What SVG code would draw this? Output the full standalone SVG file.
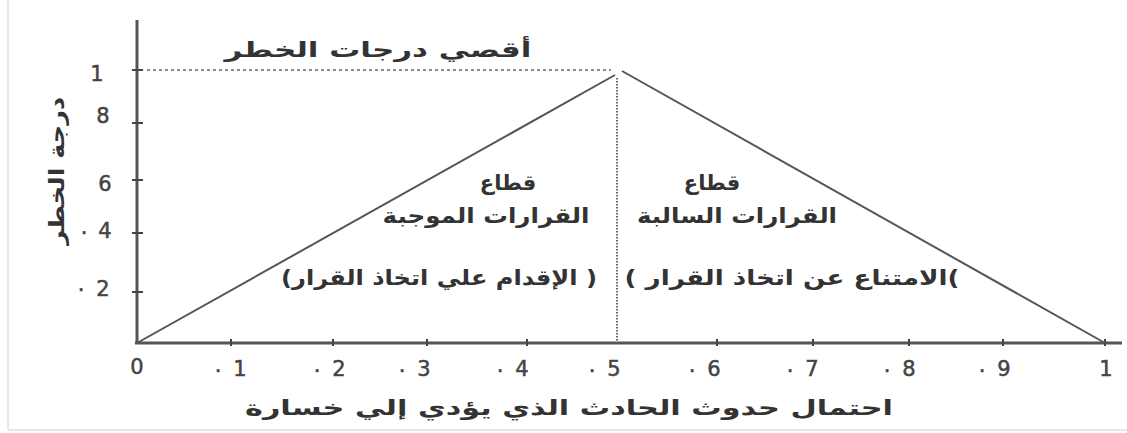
<svg xmlns="http://www.w3.org/2000/svg" width="1127" height="433" viewBox="0 0 1127 433">
<style>
.ar{font-family:"DejaVu Sans",sans-serif;font-weight:bold;fill:#333;font-size:21px}
.num{font-family:"DejaVu Sans",sans-serif;fill:#444;stroke:#444;stroke-width:0.5;font-size:21px;text-anchor:middle}
.axis{stroke:#555;stroke-width:3;fill:none}
.tick{stroke:#444;stroke-width:2}
.ln{stroke:#555;stroke-width:2;fill:none}
.p{direction:ltr;unicode-bidi:embed}
</style>
<rect width="1127" height="433" fill="#fff"/>
<g id="frame" stroke="#e6e6e6" stroke-width="2">
<line x1="8" y1="0" x2="8" y2="430"/>
<line x1="8" y1="430" x2="1127" y2="430"/>
</g>
<g id="axes">
<line class="axis" x1="137" y1="20" x2="137" y2="344"/>
<line class="axis" x1="135" y1="343" x2="1122" y2="343"/>
<g class="tick">
<line x1="132" y1="70" x2="143" y2="70"/>
<line x1="132" y1="123" x2="143" y2="123"/>
<line x1="132" y1="180" x2="143" y2="180"/>
<line x1="132" y1="233" x2="143" y2="233"/>
<line x1="132" y1="292" x2="143" y2="292"/>
<line x1="231" y1="339" x2="231" y2="346"/>
<line x1="333" y1="339" x2="333" y2="346"/>
<line x1="427" y1="339" x2="427" y2="346"/>
<line x1="527" y1="339" x2="527" y2="346"/>
<line x1="717" y1="339" x2="717" y2="346"/>
<line x1="813" y1="339" x2="813" y2="346"/>
<line x1="909" y1="339" x2="909" y2="346"/>
<line x1="1003" y1="339" x2="1003" y2="346"/>
<line x1="1105" y1="339" x2="1105" y2="346"/>
</g>
</g>
<g id="ylabels" class="num">
<text x="97" y="81">1</text>
<text x="103" y="123">8</text>
<text x="105" y="191">6</text>
<text y="238"><tspan x="84" dy="-4">.</tspan><tspan x="105" dy="4">4</tspan></text>
<text y="296"><tspan x="81" dy="-5">.</tspan><tspan x="103" dy="5">2</tspan></text>
</g>
<g id="xlabels" class="num">
<text x="137" y="374">0</text>
<text y="376"><tspan x="218" dy="-4">.</tspan><tspan x="240" dy="4">1</tspan></text>
<text y="376"><tspan x="317" dy="-4">.</tspan><tspan x="339" dy="4">2</tspan></text>
<text y="376"><tspan x="402" dy="-4">.</tspan><tspan x="424" dy="4">3</tspan></text>
<text y="376"><tspan x="500" dy="-4">.</tspan><tspan x="522" dy="4">4</tspan></text>
<text y="376"><tspan x="592" dy="-4">.</tspan><tspan x="614" dy="4">5</tspan></text>
<text y="376"><tspan x="692" dy="-4">.</tspan><tspan x="714" dy="4">6</tspan></text>
<text y="376"><tspan x="790" dy="-4">.</tspan><tspan x="812" dy="4">7</tspan></text>
<text y="376"><tspan x="887" dy="-4">.</tspan><tspan x="909" dy="4">8</tspan></text>
<text y="376"><tspan x="982" dy="-4">.</tspan><tspan x="1004" dy="4">9</tspan></text>
<text x="1106" y="376">1</text>
</g>
<g id="connectors">
<line class="ln" x1="137" y1="343" x2="615" y2="75"/>
<line class="ln" x1="622" y1="71" x2="1105" y2="343"/>
<line x1="147" y1="70" x2="611" y2="70" stroke="#666" stroke-width="1.6" stroke-dasharray="3 3"/>
<line x1="617" y1="78" x2="617" y2="343" stroke="#666" stroke-width="2" stroke-dasharray="1.5 1.5"/>
</g>
<g id="title">
<text class="ar" x="378" y="57" text-anchor="middle" direction="rtl" textLength="307" lengthAdjust="spacingAndGlyphs">أقصي درجات الخطر</text>
</g>
<g id="ytitle">
<text class="ar" transform="translate(64,171) rotate(-90)" text-anchor="middle" direction="rtl" textLength="148" lengthAdjust="spacingAndGlyphs" font-size="23">درجة الخطر</text>
</g>
<g id="left-sector">
<text class="ar" x="508" y="190" text-anchor="middle" direction="rtl">قطاع</text>
<text class="ar" x="486" y="223" text-anchor="middle" direction="rtl" textLength="207" lengthAdjust="spacingAndGlyphs">القرارات الموجبة</text>
<text class="ar" x="439" y="285" text-anchor="middle" direction="rtl" textLength="316" lengthAdjust="spacingAndGlyphs"><tspan class="p">)</tspan> الإقدام علي اتخاذ القرار<tspan class="p">(</tspan></text>
</g>
<g id="right-sector">
<text class="ar" x="712" y="190" text-anchor="middle" direction="rtl">قطاع</text>
<text class="ar" x="737" y="223" text-anchor="middle" direction="rtl" textLength="200" lengthAdjust="spacingAndGlyphs">القرارات السالبة</text>
<text class="ar" x="792" y="285" text-anchor="middle" direction="rtl" textLength="335" lengthAdjust="spacingAndGlyphs"><tspan class="p">(</tspan>الامتناع عن اتخاذ القرار <tspan class="p">(</tspan></text>
</g>
<g id="xtitle">
<text class="ar" x="569" y="415" text-anchor="middle" direction="rtl" textLength="648" lengthAdjust="spacingAndGlyphs">احتمال حدوث الحادث الذي يؤدي إلي خسارة</text>
</g>
</svg>
